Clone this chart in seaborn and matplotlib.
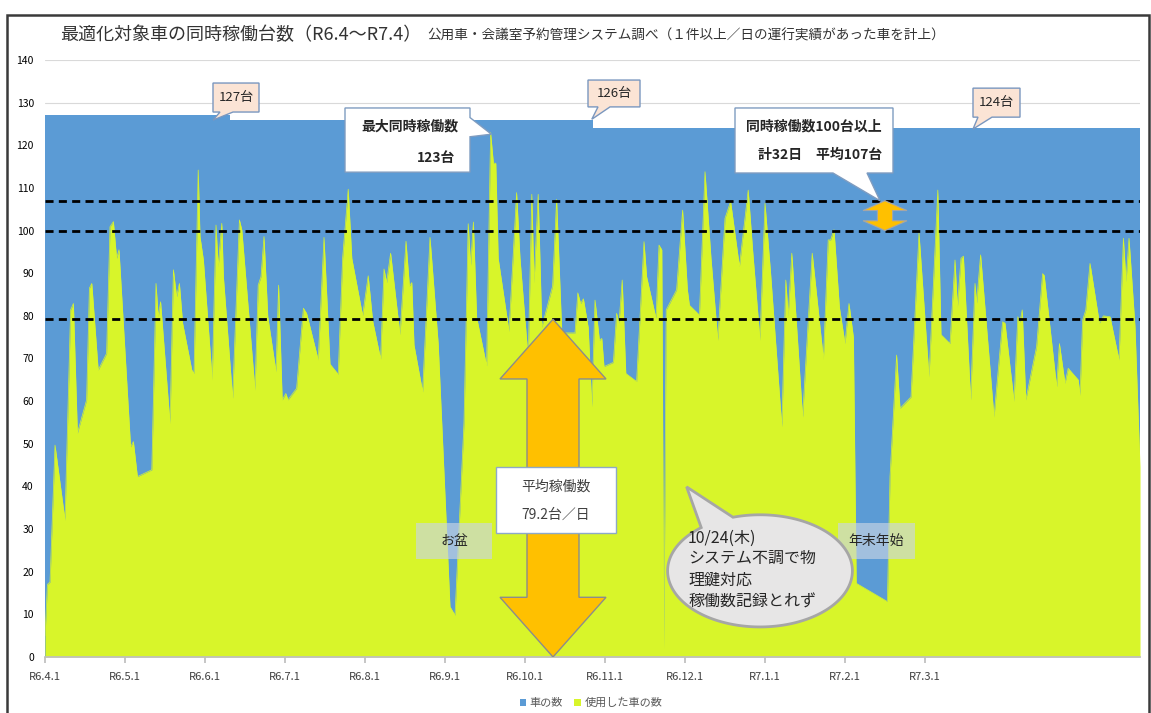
import numpy as np
import pandas as pd
import matplotlib
matplotlib.use("Agg")
import matplotlib.pyplot as plt
import seaborn as sns
from matplotlib.patches import Polygon, Rectangle, Patch

# ---- data -------------------------------------------------------------
# business-day index (0 = R6.4.1) and vehicles in simultaneous use that day
day = [0, 0.6, 1.25, 2.5, 5.0, 6.4, 7.1, 8.1, 10.4, 11.1, 11.7, 13.3, 15.4,
       16.25, 17.1, 17.9, 18.5, 21.4, 22.1, 23.1, 26.7, 27.75, 28.3, 28.9,
       31.25, 32.1, 32.9, 33.6, 34.4, 36.7, 37.25, 38.3, 38.75, 39.6, 41.8,
       42.75, 43.3, 44.2, 44.6, 46.9, 48.6, 49.2, 52.5, 53.3, 54.0, 54.75,
       55.7, 57.75, 58.4, 59.3, 60.2, 60.75, 62.9, 64.6, 65.4, 68.3, 69.75,
       71.25, 73.3, 74.4, 75.8, 76.7, 79.4, 80.8, 81.9, 83.9, 84.75, 85.4,
       86.4, 88.75, 90.25, 91.1, 91.7, 92.25, 94.4, 96.25, 98.3, 101.25,
       102.5, 104.75, 105.8, 106.4, 107.1, 107.9, 110.4, 111.4, 112.1, 112.7,
       113.3, 116.0, 117.9, 118.75, 120.8, 121.7, 122.25, 123.3, 124.2,
       126.9, 127.9, 129.2, 132.5, 133.2, 133.9, 134.6, 135.8, 136.7, 137.5,
       138.6, 139.2, 139.75, 142.1, 142.9, 143.5, 144.3, 145.2, 147.9,
       149.75, 150.4, 152.75, 153.5, 154.2, 154.7, 155.3, 157.9, 159.4,
       160.6, 161.1, 163.6, 165.0, 166.5, 168.2, 170.0, 171.4, 173.6, 175.8,
       176.9, 178.75, 180.0, 181.4, 184.2, 185.2, 185.8, 186.7, 189.4, 191.8,
       194.6, 195.8, 196.4, 197.25, 198.6, 200.0, 201.0, 202.1, 202.8, 210.6,
       211.25, 212.9, 213.75, 216.5, 218.5, 221.0, 223.2, 224.0, 226.25,
       227.5, 228.1, 229.0, 229.6, 231.4, 232.5, 232.9, 233.9, 237.25, 239.4,
       240.0, 242.25, 243.2, 243.75, 244.3, 245.2, 247.9, 249.4, 249.8,
       252.9, 253.6, 255.0, 255.8, 258.3, 258.75, 259.4, 260.2, 261.25,
       263.6, 264.6, 266.25, 268.5, 269.6, 270.25, 271.0, 272.5, 273.75]
used = [5, 17, 17.6, 49.7, 32.1, 81.4, 82.9, 52.5, 60.3, 86.5, 87.6, 67.3, 71.2,
        100.9, 102.1, 93.5, 95.5, 49.3, 50.5, 42.3, 43.9, 87.6, 79.8, 83.3,
        54.8, 90.8, 84.5, 87.6, 78.3, 67.3, 66.5, 114.2, 98.6, 93.1, 65.0,
        101.3, 91.5, 101.7, 89.2, 60.7, 102.5, 100.2, 62.6, 87.2, 89.2, 98.6,
        79.8, 66.9, 87.2, 60.3, 61.8, 60.3, 63.0, 81.8, 80.6, 69.7, 98.4,
        68.7, 66.3, 93.5, 109.7, 93.5, 80.1, 89.4, 78.9, 69.9, 91.0, 87.8,
        94.7, 75.6, 97.5, 87.0, 87.8, 73.2, 62.2, 98.4, 73.5, 11.8,
        9.8, 55.0, 101.6, 91.9, 102.0, 79.7, 68.3, 123, 115.8, 115.8,
        93.5, 76.4, 108.9, 93.5, 69.9, 108.5, 87.8, 108.5, 77.3,
        87.0, 107.3, 76.0, 76.0, 85.4, 82.9, 84.0, 77.3, 58.7, 83.7,
        74.3, 74.7, 68.1, 69.1, 80.6, 78.3, 88.4, 66.5, 64.6,
        97.4, 89.2, 79.4, 96.6, 95.5, 2.0, 81.4, 86.1, 104.8,
        86.1, 82.5, 80.2, 113.8, 93.5, 74.3, 102.9, 106.8, 91.6, 109.5,
        95.5, 74.3, 106.4, 90.0, 54.0, 88.4, 80.0, 94.7, 56.3, 94.7,
        69.9, 97.8, 97.8, 100.2, 82.0, 73.5, 82.9, 75.0, 17.3, 13.0,
        42.3, 70.8, 58.3, 61.0, 99.4, 65.7, 109.5, 75.6, 73.5,
        93.1, 82.0, 93.5, 94.0, 60.3, 87.6, 83.0, 94.3, 56.3, 78.6,
        78.3, 60.0, 79.8, 78.5, 81.4, 60.3, 72.8, 89.9, 89.5,
        63.4, 73.5, 64.2, 67.7, 65.0, 61.4, 79.0, 81.4, 92.3,
        78.3, 80.0, 79.8, 69.7, 98.2, 88.0, 98.2, 77.5, 44.6]

# registered vehicles and the business day from which each count applies
fleet_from_day = [0, 46.3, 137.0]
fleet_size = [127, 126, 124]
last_day = 273.75

month_ticks = [0, 20, 40, 60, 80, 100, 120, 140, 160, 180, 200, 220]
month_labels = ["R6.4.1", "R6.5.1", "R6.6.1", "R6.7.1", "R6.8.1", "R6.9.1",
                "R6.10.1", "R6.11.1", "R6.12.1", "R7.1.1", "R7.2.1", "R7.3.1"]

avg_used = 79.2          # average vehicles in use per day
busy_threshold = 100     # threshold for "busy" days
busy_avg = 107           # average on busy days
busy_days = 32           # number of busy days
max_used = int(max(used))

BLUE = "#5B9BD5"
GREEN = "#D8F52A"
ORANGE = "#FFC000"
TXT = "#262626"

# ---- figure -----------------------------------------------------------
sns.set_theme(style="white")
plt.rcParams["font.family"] = ["Noto Sans CJK JP", "DejaVu Sans"]

W, H = 1151, 713
fig = plt.figure(figsize=(W / 100, H / 100), dpi=100)
ax = fig.add_axes([45 / W, 56 / H, 1095 / W, 597 / H])

# fleet size (stepped) behind, vehicles in use in front
fx = fleet_from_day + [last_day]
fy = fleet_size + [fleet_size[-1]]
ax.fill_between(fx, 0, fy, step="post", color=BLUE, lw=0, zorder=1)

df = pd.DataFrame({"day": day, "used": used})
ax.fill_between(df["day"], 0, df["used"], color=GREEN, lw=0, zorder=2)
sns.lineplot(data=df, x="day", y="used", color=GREEN, lw=0.5, sort=False,
             estimator=None, errorbar=None, legend=False, ax=ax, zorder=2)

ax.set_xlim(0, last_day)
ax.set_ylim(0, 140)
ax.set_yticks(range(0, 141, 10))
ax.set_xticks(month_ticks, month_labels)
ax.set_xlabel("")
ax.set_ylabel("")
ax.yaxis.grid(True, color="#D9D9D9", lw=0.8)
ax.set_axisbelow(True)
for s in ("left", "right", "top"):
    ax.spines[s].set_visible(False)
ax.spines["bottom"].set_color("#BFBFBF")
ax.tick_params(axis="x", length=4, color="#BFBFBF", labelsize=8,
               labelcolor="#404040", pad=7, bottom=True)
ax.tick_params(axis="y", length=0, labelsize=7.5, labelcolor="#000000", pad=8)

# reference lines
dash = (0, (2.9, 1.9))
for v in (busy_avg, busy_threshold, avg_used):
    ax.axhline(v, color="black", lw=2, ls=dash, zorder=3)


def double_arrow(cx, lo, hi, head_len, head_hw, shaft_hw, **kw):
    pts = [(cx, hi), (cx + head_hw, hi - head_len), (cx + shaft_hw, hi - head_len),
           (cx + shaft_hw, lo + head_len), (cx + head_hw, lo + head_len), (cx, lo),
           (cx - head_hw, lo + head_len), (cx - shaft_hw, lo + head_len),
           (cx - shaft_hw, hi - head_len), (cx - head_hw, hi - head_len)]
    ax.add_patch(Polygon(pts, closed=True, **kw))


def callout(x0, x1, y0, y1, side, b0, b1, tip, fc, ec, lw=1.0, z=5):
    if side == "bottom":
        pts = [(x0, y1), (x1, y1), (x1, y0), (b1, y0), tip, (b0, y0), (x0, y0)]
    else:  # right
        pts = [(x0, y0), (x0, y1), (x1, y1), (x1, b1), tip, (x1, b0), (x1, y0)]
    ax.add_patch(Polygon(pts, closed=True, fc=fc, ec=ec, lw=lw, zorder=z,
                         joinstyle="miter"))


# average arrow and its label
double_arrow(127, 0, avg_used, 14, 13.25, 6.5, fc=ORANGE, ec="#8C8C8C",
             lw=1, zorder=4)
ax.add_patch(Rectangle((112.75, 29.1), 30, 15.5, fc="white", ec="#8EA9C8",
                       lw=1, zorder=5))
ax.text(127.75, 39.9, "平均稼働数", ha="center", va="center", fontsize=10,
        color="#404040", zorder=6)
ax.text(127.75, 33.3, f"{avg_used}台／日", ha="center", va="center",
        fontsize=10, color="#404040", zorder=6)

# busy-day arrow
double_arrow(210, busy_threshold, busy_avg, 2.3, 5.5, 1.9, fc=ORANGE,
             ec="#A6A6A6", lw=0.8, zorder=4)

# fleet size callouts
PEACH, PEACH_EC = "#FBE4D5", "#7A97BF"
for (x0, x1, y0, y1, b0, b1, tip), n in zip(
        [(42, 53.5, 127.8, 134.6, 43.75, 47.0, (42, 125.9)),
         (135.75, 148.75, 129.0, 135.3, 138.25, 141.25, (136.7, 126.1)),
         (232, 243.75, 126.6, 133.4, 233.25, 236.75, (232, 123.8))],
        fleet_size):
    callout(x0, x1, y0, y1, "bottom", b0, b1, tip, PEACH, PEACH_EC)
    ax.text((x0 + x1) / 2, (y0 + y1) / 2, f"{n}台", ha="center", va="center",
            fontsize=9.5, color=TXT, zorder=6)

# maximum callout
callout(75, 106.25, 113.7, 128.75, "right", 122.0, 126.5, (111.6, 122.6),
        "white", "#7F9CC0")
ax.text(91.25, 124.3, "最大同時稼働数", ha="center", va="center", fontsize=10,
        fontweight="bold", color=TXT, zorder=6)
ax.text(102.5, 117.0, f"{max_used}台", ha="right", va="center", fontsize=10,
        fontweight="bold", color=TXT, zorder=6)

# busy-day callout
callout(172.5, 212, 113.5, 128.75, "bottom", 197, 205.5, (208.75, busy_avg),
        "white", "#7F9CC0")
ax.text(209.25, 124.3, f"同時稼働数{busy_threshold}台以上", ha="right",
        va="center", fontsize=10, fontweight="bold", color=TXT, zorder=6)
ax.text(209.25, 117.7, f"計{busy_days}日　平均{busy_avg}台", ha="right",
        va="center", fontsize=10, fontweight="bold", color=TXT, zorder=6)

# holiday tags
for x0, x1, label in [(92.75, 111.75, "お盆"), (198.25, 217.5, "年末年始")]:
    ax.add_patch(Rectangle((x0, 22.9), x1 - x0, 8.6, fc="#C9D5E3", alpha=0.65,
                           lw=0, zorder=5))
    ax.text((x0 + x1) / 2, 27.2, label, ha="center", va="center", fontsize=10,
            color=TXT, zorder=6)

# speech bubble for the missing record
cx, cy, a, b = 178.75, 20.2, 23.1, 13.15
t = np.radians(np.linspace(129.5, 107 + 360, 200))
bubble = list(zip(cx + a * np.cos(t), cy + b * np.sin(t))) + [(160.4, 39.9)]
ax.add_patch(Polygon(bubble, closed=True, fc="#E7E6E6", ec="#A6A6A6", lw=2,
                     zorder=5))
for yv, line in zip([27.9, 23.2, 18.1, 12.9],
                    ["10/24(木)", "システム不調で物", "理鍵対応", "稼働数記録とれず"]):
    ax.text(160.75, yv, line, ha="left", va="center", fontsize=11.5, color=TXT,
            zorder=6)

# titles
title = fig.text(60 / W, 1 - 35 / H, "最適化対象車の同時稼働台数（R6.4～R7.4）",
                 fontsize=13, ha="left", va="center", color="#333333")
fig.canvas.draw()
bb = title.get_window_extent()
fig.text((bb.x1 + 6) / fig.bbox.width, 1 - 36 / H,
         "公用車・会議室予約管理システム調べ（１件以上／日の運行実績があった車を計上）",
         fontsize=9.8, ha="left", va="center", color="#333333")

# legend
handles = [Patch(fc=BLUE, ec="none"), Patch(fc=GREEN, ec="none")]
fig.legend(handles, ["車の数", "使用した車の数"], loc="center",
           bbox_to_anchor=(591 / W, 10 / H), ncol=2, frameon=False,
           fontsize=8, handlelength=0.6, handleheight=0.6,
           handletextpad=0.3, columnspacing=1.0, labelcolor="#595959")

# outer frame
fig.add_artist(Rectangle((7 / W, -0.05), (1149 - 7) / W, 1 - 15 / H + 0.05,
                         transform=fig.transFigure, fill=False, ec="#3A3A3A",
                         lw=1.8))

fig.savefig("out.png", dpi=100)
